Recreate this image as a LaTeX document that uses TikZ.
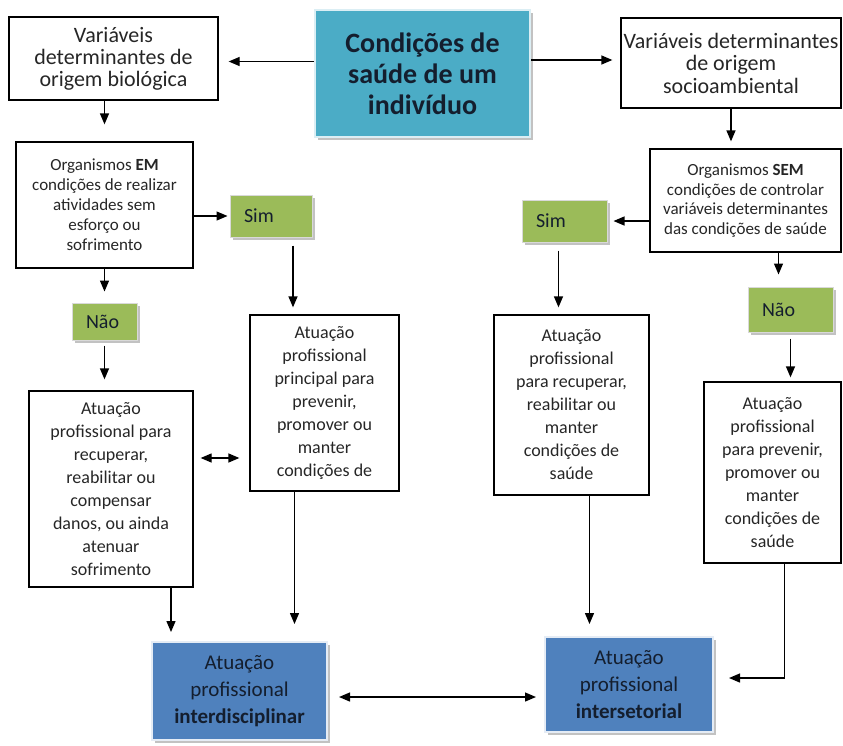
\documentclass[tikz,border=0pt]{standalone}
\usepackage{fontspec}
\setmainfont{Carlito}
\usetikzlibrary{arrows.meta,shadows}

\definecolor{tealbox}{HTML}{4BACC6}
\definecolor{greenbox}{HTML}{9BBB59}
\definecolor{bluebox}{HTML}{4F81BD}
\definecolor{darktext}{HTML}{141E2E}

\begin{document}
\begin{tikzpicture}[x=1pt,y=-1pt,
    box/.style={draw, line width=1.3pt, inner sep=0pt, align=center, text=black!85},
    answer/.style={fill=greenbox, draw=white!85!black, line width=1pt,
        inner xsep=14pt, inner ysep=0pt, align=left, text=darktext,
        font=\fontsize{20}{22}\selectfont,
        drop shadow={shadow xshift=3pt, shadow yshift=-3pt, fill=black!40, opacity=0.6}},
    result/.style={fill=bluebox, draw=white!85!bluebox, line width=2pt, inner sep=0pt,
        align=center, text=darktext, font=\fontsize{21}{27}\selectfont,
        drop shadow={shadow xshift=3pt, shadow yshift=-3pt, fill=black!40, opacity=0.6}},
    arr/.style={line width=1.3pt, -{Triangle[length=11pt,width=9pt]}},
    arrboth/.style={line width=1.3pt, {Triangle[length=11pt,width=9pt]}-{Triangle[length=11pt,width=9pt]}}
    ]

    \useasboundingbox (0,0) rectangle (843,745);

    % centro
    \node[fill=tealbox, draw=white!80!tealbox, line width=2pt, inner sep=0pt, align=center,
        minimum width=215pt, minimum height=127pt, text=darktext,
        font=\fontsize{28}{31}\selectfont\bfseries,
        drop shadow={shadow xshift=3pt, shadow yshift=-3pt, fill=black!40, opacity=0.6}]
        (saude) at (422.5,73.5) {Condições de\\saúde de um\\indivíduo};

    % coluna esquerda
    \node[box, minimum width=209pt, minimum height=83pt, font=\fontsize{22}{22}\selectfont]
        (bio) at (113.5,58.5) {Variáveis\\determinantes de\\origem biológica};
    \node[box, minimum width=177pt, minimum height=126pt, font=\fontsize{17}{20}\selectfont]
        (em) at (104.5,205) {Organismos \textbf{EM}\\condições de realizar\\atividades sem\\esforço ou\\sofrimento};
    \node[answer, text width=54pt, minimum height=42pt] (simL) at (271,216) {Sim};
    \node[answer, text width=37pt, minimum height=37pt] (naoL) at (104.5,321.5) {Não};
    \node[box, minimum width=164pt, minimum height=196pt, font=\fontsize{18}{23}\selectfont]
        (recL) at (111,489) {Atuação\\profissional para\\recuperar,\\reabilitar ou\\compensar\\danos, ou ainda\\atenuar\\sofrimento};
    \node[box, minimum width=149pt, minimum height=176pt, font=\fontsize{18}{23}\selectfont]
        (prevM) at (324.5,403) {Atuação\\profissional\\principal para\\prevenir,\\promover ou\\manter\\condições de};

    % coluna direita
    \node[box, minimum width=220pt, minimum height=90pt, font=\fontsize{22}{22.5}\selectfont]
        (socio) at (731,63) {Variáveis determinantes\\de origem\\socioambiental};
    \node[box, minimum width=191pt, minimum height=103pt, font=\fontsize{17}{19.5}\selectfont]
        (sem) at (745.5,200.5) {Organismos \textbf{SEM}\\condições de controlar\\variáveis determinantes\\das condições de saúde};
    \node[answer, text width=57pt, minimum height=42pt] (simR) at (564.5,221) {Sim};
    \node[answer, text width=57pt, minimum height=45pt] (naoR) at (790.5,309.5) {Não};
    \node[box, minimum width=155pt, minimum height=180pt, font=\fontsize{18}{23}\selectfont]
        (recR) at (571.5,405) {Atuação\\profissional\\para recuperar,\\reabilitar ou\\manter\\condições de\\saúde};
    \node[box, minimum width=137pt, minimum height=181pt, font=\fontsize{18}{23}\selectfont]
        (prevR) at (772.5,472.5) {Atuação\\profissional\\para prevenir,\\promover ou\\manter\\condições de\\saúde};

    % resultados
    \node[result, minimum width=175pt, minimum height=98pt]
        (inter) at (239.5,691) {Atuação\\profissional\\\textbf{interdisciplinar}};
    \node[result, minimum width=168pt, minimum height=95pt]
        (inters) at (629,684.5) {Atuação\\profissional\\\textbf{intersetorial}};

    % ligacoes
    \draw[arr, shorten >=10pt] ([yshift=-3pt]bio.east -| saude.west) -- ([yshift=-3pt]bio.east);
    \draw[arr, shorten >=8pt] ([yshift=3pt]socio.west -| saude.east) -- ([yshift=3pt]socio.west);

    \draw[arr, shorten >=17pt] (em.north |- bio.south) -- (em.north);
    \draw[arr, shorten >=7pt] (socio.south) -- (socio.south |- sem.north);

    \draw[arr, shorten >=2pt] (simL.west -| em.east) -- (simL.west);
    \draw[arr, shorten >=6pt] (simR.east -| sem.west) -- (simR.east);

    \draw[arr, shorten >=11pt] (naoL.north |- em.south) -- (naoL.north);
    \draw[arr, shorten >=12pt] ([xshift=-12pt]naoR.north |- sem.south) -- ([xshift=-12pt]naoR.north);

    \draw[arr, shorten <=8pt, shorten >=7pt] ([xshift=22pt]simL.south) -- ([xshift=22pt]simL.south |- prevM.north);
    \draw[arr, shorten <=8pt, shorten >=7pt] ([xshift=-6pt]simR.south) -- ([xshift=-6pt]simR.south |- recR.north);

    \draw[arr, shorten <=5pt, shorten >=11pt] (naoL.south) -- (naoL.south |- recL.north);
    \draw[arr, shorten <=6pt, shorten >=4pt] (naoR.south) -- (naoR.south |- prevR.north);

    \draw[arrboth, shorten <=7pt, shorten >=10pt] ([yshift=31pt]recL.east) -- ([yshift=31pt]recL.east -| prevM.west);

    \draw[arr, shorten >=9pt] ([xshift=20pt]inter.north west |- recL.south) -- ([xshift=20pt]inter.north west);
    \draw[arr, shorten >=17pt] ([xshift=-30pt]prevM.south) -- ([xshift=-30pt]prevM.south |- inter.north);
    \draw[arr, shorten >=12pt] ([xshift=18pt]recR.south) -- ([xshift=18pt]recR.south |- inters.north);
    \draw[arr, shorten >=15pt] ([xshift=12pt]prevR.south) |- ([yshift=6.5pt]inters.east);

    \draw[arrboth, shorten <=11pt, shorten >=8pt] ([yshift=-6pt]inter.east) -- ([yshift=-6pt]inter.east -| inters.west);

\end{tikzpicture}
\end{document}
